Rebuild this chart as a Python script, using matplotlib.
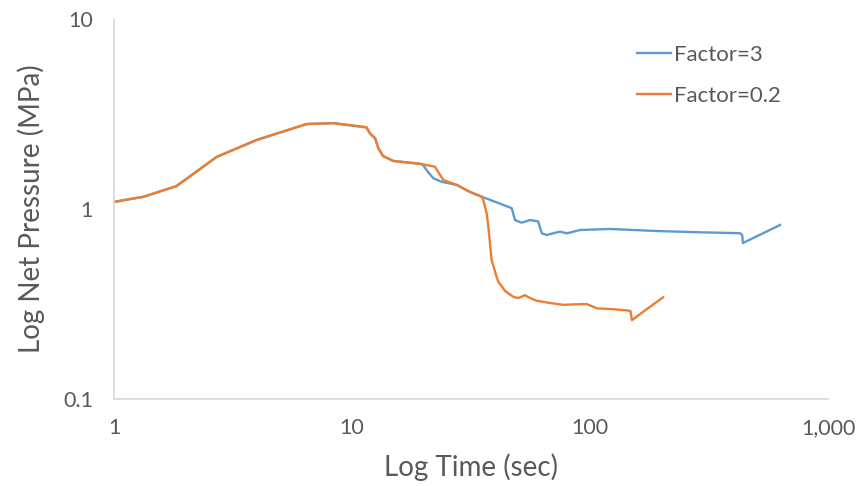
import matplotlib
matplotlib.use("Agg")
import matplotlib.pyplot as plt

# Shared early part of both runs (identical until ~19 s)
t_common = [1.0, 1.33, 1.83, 2.70, 3.98, 6.45, 8.35, 11.5, 11.9, 12.5, 12.9, 13.5, 14.9, 19.3]
p_common = [1.09, 1.16, 1.32, 1.88, 2.31, 2.80, 2.83, 2.69, 2.50, 2.36, 2.09, 1.90, 1.79, 1.73]

# Factor=3 after the split
t_f3 = [19.9, 21.0, 22.0, 23.8, 27.5, 31.3, 35.1, 40.0, 46.9, 48.4, 51.6, 56.0, 60.6,
        62.7, 65.8, 70.0, 74.8, 80.0, 90.8, 121, 190, 290, 427, 436, 439, 629]
p_f3 = [1.70, 1.55, 1.45, 1.39, 1.34, 1.23, 1.16, 1.09, 1.01, 0.875, 0.847, 0.875, 0.86,
        0.745, 0.73, 0.745, 0.76, 0.745, 0.775, 0.785, 0.766, 0.754, 0.746, 0.73, 0.662, 0.824]

# Factor=0.2 after the split
t_f02 = [22.3, 24.2, 27.5, 31.3, 35.1, 35.6, 36.8, 37.4, 38.6, 40.5, 41.2, 44.0, 47.6,
         50.0, 53.3, 56.0, 59.7, 68.0, 77.3, 87.0, 96.9, 107, 125, 145, 148, 150, 175, 203]
p_f02 = [1.67, 1.42, 1.34, 1.23, 1.16, 1.115, 0.95, 0.807, 0.539, 0.44, 0.414, 0.37, 0.345,
         0.34, 0.352, 0.34, 0.329, 0.32, 0.313, 0.315, 0.316, 0.30, 0.297, 0.292, 0.29, 0.26, 0.30, 0.343]

x_ticks = [1, 10, 100, 1000]
x_tick_labels = ["1", "10", "100", "1,000"]
y_ticks = [0.1, 1, 10]
y_tick_labels = ["0.1", "1", "10"]

BLUE = "#5B9BD5"
ORANGE = "#ED7D31"
GRAY = "#595959"

plt.rcParams["font.family"] = ["Lato", "DejaVu Sans"]

fig = plt.figure(figsize=(8.59, 4.86), dpi=100)
ax = fig.add_axes([114 / 859, 1 - 399 / 486, (828 - 114) / 859, (399 - 19) / 486])

ax.plot(t_common + t_f3, p_common + p_f3, color=BLUE, lw=1.7, label="Factor=3")
ax.plot(t_common + t_f02, p_common + p_f02, color=ORANGE, lw=1.7, label="Factor=0.2")

ax.set_xscale("log")
ax.set_yscale("log")
ax.set_xlim(1, 1000)
ax.set_ylim(0.1, 10)
ax.set_xticks(x_ticks, x_tick_labels)
ax.set_yticks(y_ticks, y_tick_labels)
ax.minorticks_off()
ax.tick_params(length=0, labelsize=15.5, labelcolor=GRAY)
ax.tick_params(axis="x", pad=14)
ax.tick_params(axis="y", pad=15)

for side in ("top", "right"):
    ax.spines[side].set_visible(False)
for side in ("left", "bottom"):
    ax.spines[side].set_color("#D9D9D9")
    ax.spines[side].set_linewidth(1.2)

ax.set_xlabel("Log Time (sec)", fontsize=20, color=GRAY, labelpad=11)
ax.set_ylabel("Log Net Pressure (MPa)", fontsize=20, color=GRAY, labelpad=13)

leg = ax.legend(loc="upper left", bbox_to_anchor=(0.705, 0.985), frameon=False,
                fontsize=16, handlelength=1.5, labelspacing=0.95, handletextpad=0.15)
for txt in leg.get_texts():
    txt.set_color(GRAY)

fig.savefig("out.png", dpi=100)
